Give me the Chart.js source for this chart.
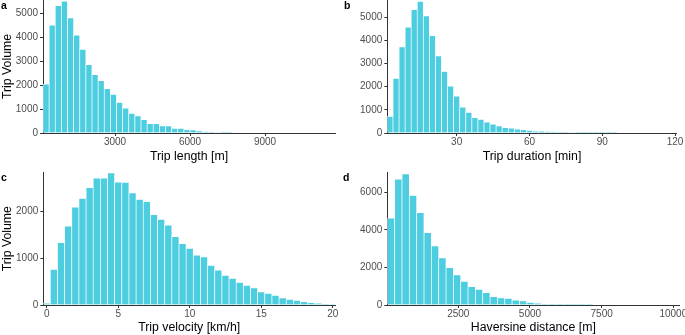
<!DOCTYPE html>
<html>
<head>
<meta charset="utf-8">
<title>Trip distributions</title>
<script src="https://cdn.jsdelivr.net/npm/chart.js@4/dist/chart.umd.min.js"></script>
<style>
	html, body { margin: 0; padding: 0; background: #fff; overflow: hidden; }
	body { position: relative; width: 685px; height: 335px; font-family: 'Liberation Sans', Arial, sans-serif; }
	canvas { position: absolute; }
	.tag { position: absolute; font-weight: bold; font-size: 10.5px; line-height: 1; color: #000; }
</style>
</head>
<body>
<canvas id="chartA" width="340" height="165" style="left:0;top:0"></canvas>
<canvas id="chartB" width="345" height="165" style="left:340px;top:0"></canvas>
<canvas id="chartC" width="340" height="170" style="left:0;top:165px"></canvas>
<canvas id="chartD" width="360" height="170" style="left:340px;top:165px"></canvas>
<div class="tag" style="left:1px;top:0">a</div>
<div class="tag" style="left:344px;top:0">b</div>
<div class="tag" style="left:1px;top:172px">c</div>
<div class="tag" style="left:343px;top:172px">d</div>
<script>
const FONT = "'Liberation Sans', Arial, sans-serif"
const BAR_COLOR = '#4dcde0'
const AXIS_COLOR = '#333333'
const TICK_COLOR = '#4d4d4d'

// a - trip length [m]
const lengthBinStart = 120
const lengthBinWidth = 245
const lengthValues = [2040, 4500, 5320, 5500, 4800, 4080, 3490, 2850, 2440, 2190, 1850, 1610, 1280, 1040, 820, 710,
	560, 390, 390, 300, 300, 195, 195, 140, 125, 85, 55, 30, 20, 10, 5]
const lengthTicksX = [3000, 6000, 9000]
const lengthTicksY = [0, 1000, 2000, 3000, 4000, 5000]

// b - trip duration [min]
const durationBinStart = 1.25
const durationBinWidth = 2.5
const durationValues = [720, 2360, 3720, 4580, 5330, 5690, 5060, 4210, 3330, 2660, 2030, 1590, 1120, 890, 660, 590,
	470, 380, 310, 230, 215, 170, 145, 115, 85, 70, 60, 55, 40, 30, 20, 15, 10, 8, 6, 5, 4, 3]
const durationTicksX = [30, 60, 90, 120]
const durationTicksY = [0, 1000, 2000, 3000, 4000, 5000]

// c - trip velocity [km/h]
const velocityBinStart = -0.25
const velocityBinWidth = 0.5
const velocityValues = [35, 765, 1335, 1690, 2100, 2285, 2515, 2720, 2720, 2830, 2635, 2630, 2405, 2265, 2215, 1935,
	1835, 1715, 1465, 1315, 1215, 1070, 1030, 850, 745, 635, 570, 485, 420, 365, 280, 250, 205, 155, 120, 100, 70,
	50, 35, 20, 12]
const velocityTicksX = [0, 5, 10, 15, 20]
const velocityTicksY = [0, 1000, 2000]

// d - haversine distance [m]
const haversineBinStart = 24
const haversineBinWidth = 256
const haversineValues = [4620, 6700, 6980, 5840, 4920, 3855, 3145, 2505, 1990, 1600, 1260, 980, 835, 660, 445, 375,
	355, 265, 215, 140, 105, 35, 20, 12, 8, 5, 3, 2]
const haversineTicksX = [2500, 5000, 7500, 10000]
const haversineTicksY = [0, 2000, 4000, 6000]

const binned = (start, width, values) => values.map((v, i) => ({ x: start + width * (i + 0.5), y: v }))

function makePanel(id, cfg) {
	new Chart(document.getElementById(id), {
		type: 'bar',
		data: {
			datasets: [
				{
					data: binned(cfg.binStart, cfg.binWidth, cfg.values),
					backgroundColor: BAR_COLOR,
					borderColor: 'rgba(255, 255, 255, 0.8)',
					borderWidth: 0.7,
					borderSkipped: 'bottom',
					barPercentage: 1,
					categoryPercentage: 1,
				},
			],
		},
		options: {
			responsive: false,
			animation: false,
			events: [],
			layout: { padding: cfg.padding },
			plugins: { legend: { display: false }, tooltip: { enabled: false } },
			scales: {
				x: {
					type: 'linear',
					min: cfg.xMin,
					max: cfg.xMax,
					offset: false,
					grid: { offset: false, drawOnChartArea: false, drawTicks: true, tickLength: 3, color: AXIS_COLOR },
					border: { display: true, color: AXIS_COLOR, width: 1 },
					ticks: {
						autoSkip: false,
						maxRotation: 0,
						padding: 0,
						color: TICK_COLOR,
						font: { family: FONT, size: 10 },
						callback: v => String(v),
					},
					title: {
						display: true,
						text: cfg.xTitle,
						color: '#000',
						font: { family: FONT, size: 12.3 },
						padding: { top: 0, bottom: cfg.titlePad },
					},
					afterBuildTicks: s => {
						s.ticks = cfg.ticksX.map(v => ({ value: v }))
					},
					afterFit: s => {
						s.height = cfg.xHeight
						s.paddingLeft = 0
						s.paddingRight = 0
						s.paddingTop = 0
						s.paddingBottom = 0
					},
				},
				y: {
					type: 'linear',
					min: 0,
					max: cfg.yMax,
					grid: { drawOnChartArea: false, drawTicks: true, tickLength: 3, color: AXIS_COLOR },
					border: { display: true, color: AXIS_COLOR, width: 1 },
					ticks: {
						padding: 2,
						color: TICK_COLOR,
						font: { family: FONT, size: 10 },
						callback: v => String(v),
					},
					title: {
						display: !!cfg.yTitle,
						text: cfg.yTitle || '',
						color: '#000',
						font: { family: FONT, size: 12.3 },
						padding: { top: 0, bottom: 0 },
					},
					afterBuildTicks: s => {
						s.ticks = cfg.ticksY.map(v => ({ value: v }))
					},
					afterFit: s => {
						s.width = cfg.yWidth
						s.paddingLeft = 0
						s.paddingRight = 0
						s.paddingTop = 0
						s.paddingBottom = 0
					},
				},
			},
		},
	})
}

makePanel('chartA', {
	values: lengthValues,
	binStart: lengthBinStart,
	binWidth: lengthBinWidth,
	ticksX: lengthTicksX,
	ticksY: lengthTicksY,
	xMin: 120,
	xMax: 11800,
	yMax: 5550,
	xTitle: 'Trip length [m]',
	yTitle: 'Trip Volume',
	yWidth: 43,
	xHeight: 32,
	titlePad: 1.2,
	padding: { left: 0, top: 0, right: 5, bottom: 0 },
})

makePanel('chartB', {
	values: durationValues,
	binStart: durationBinStart,
	binWidth: durationBinWidth,
	ticksX: durationTicksX,
	ticksY: durationTicksY,
	xMin: 1.4,
	xMax: 120.7,
	yMax: 5750,
	xTitle: 'Trip duration [min]',
	yWidth: 47.3,
	xHeight: 32,
	titlePad: 1.2,
	padding: { left: 0, top: 0, right: 8.3, bottom: 0 },
})

makePanel('chartC', {
	values: velocityValues,
	binStart: velocityBinStart,
	binWidth: velocityBinWidth,
	ticksX: velocityTicksX,
	ticksY: velocityTicksY,
	xMin: -0.24,
	xMax: 20.16,
	yMax: 2845,
	xTitle: 'Trip velocity [km/h]',
	yTitle: 'Trip Volume',
	yWidth: 43.3,
	xHeight: 30,
	titlePad: 0.2,
	padding: { left: 0, top: 7.3, right: 5, bottom: 0 },
})

makePanel('chartD', {
	values: haversineValues,
	binStart: haversineBinStart,
	binWidth: haversineBinWidth,
	ticksX: haversineTicksX,
	ticksY: haversineTicksY,
	xMin: 23,
	xMax: 10209,
	yMax: 7066,
	xTitle: 'Haversine distance [m]',
	yWidth: 47.3,
	xHeight: 30,
	titlePad: 0.2,
	padding: { left: 0, top: 7.3, right: 20.7, bottom: 0 },
})
</script>
</body>
</html>
